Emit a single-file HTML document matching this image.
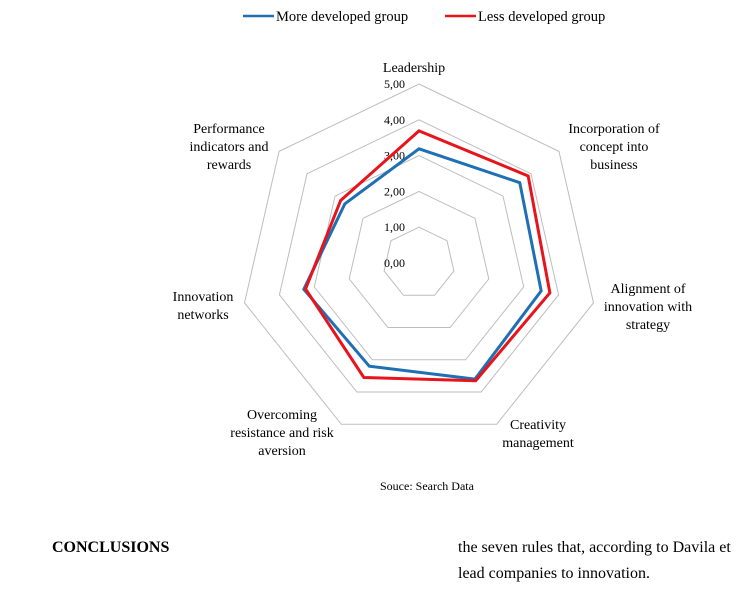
<!DOCTYPE html>
<html><head><meta charset="utf-8"><style>
body{margin:0;background:#fff;width:742px;height:590px;overflow:hidden;font-family:"Liberation Serif",serif}
svg{position:absolute;left:0;top:0}
</style></head><body>
<svg width="742" height="590" font-family="Liberation Serif, serif">
<g id="grid"></g>
<g id="ticks"></g>
<g id="series"></g>
<g id="labels"></g>
<g>
<line x1="243" y1="16" x2="274" y2="16" stroke="#1f6fb4" stroke-width="2.5"/>
<text x="276" y="21" font-size="14.5">More developed group</text>
<line x1="445" y1="16" x2="476" y2="16" stroke="#e8141c" stroke-width="2.5"/>
<text x="478" y="21" font-size="14.5">Less developed group</text>
</g>
<text x="380" y="490" font-size="12">Souce: Search Data</text>
<text x="52" y="552" font-size="16" font-weight="bold">CONCLUSIONS</text>
<text x="458" y="552" font-size="16">the seven rules that, according to Davila et</text>
<text x="458" y="578" font-size="16">lead companies to innovation.</text>
</svg>
<script>
const categories=["Leadership","Incorporation of concept into business","Alignment of innovation with strategy","Creativity management","Overcoming resistance and risk aversion","Innovation networks","Performance indicators and rewards"];
const moreDeveloped=[3.19,3.6,3.5,3.6,3.2,3.3,2.65];
const lessDeveloped=[3.69,3.9,3.75,3.65,3.55,3.25,2.8];
const tickValues=[0,1,2,3,4,5];
const tickLabels=["0,00","1,00","2,00","3,00","4,00","5,00"];
const labelLines=[["Leadership"],["Incorporation of","concept into","business"],["Alignment of","innovation with","strategy"],["Creativity","management"],["Overcoming","resistance and risk","aversion"],["Innovation","networks"],["Performance","indicators and","rewards"]];
const cx=419,cy=263,unit=35.8,maxV=5;
const NS="http://www.w3.org/2000/svg";
function ang(i){return -Math.PI/2+i*2*Math.PI/categories.length;}
function pt(i,v){return [cx+Math.cos(ang(i))*v*unit,cy+Math.sin(ang(i))*v*unit];}
const grid=document.getElementById('grid');
tickValues.forEach(t=>{if(t===0)return;
 const p=document.createElementNS(NS,'polygon');
 p.setAttribute('points',categories.map((c,i)=>pt(i,t).join(',')).join(' '));
 p.setAttribute('fill','none');p.setAttribute('stroke','#bdbdbd');p.setAttribute('stroke-width','1');
 
 
 grid.appendChild(p);});
const ticks=document.getElementById('ticks');
tickValues.forEach((t,k)=>{const tx=document.createElementNS(NS,'text');
 tx.setAttribute('x',384);tx.setAttribute('y',cy-t*unit+4);tx.setAttribute('font-size','12');
 tx.textContent=tickLabels[k];
 
 
 ticks.appendChild(tx);});
const ser=document.getElementById('series');
[[moreDeveloped,'#1f6fb4','series-more-developed'],[lessDeveloped,'#e8141c','series-less-developed']].forEach(([d,c,n])=>{
 const p=document.createElementNS(NS,'polygon');
 p.setAttribute('points',d.map((v,i)=>pt(i,v).join(',')).join(' '));
 p.setAttribute('fill','none');p.setAttribute('stroke',c);p.setAttribute('stroke-width','3');p.setAttribute('stroke-linejoin','miter');
 
 
 ser.appendChild(p);});
const labelPos=[[414,72],[614,133],[648,293],[538,429],[282,419],[203,301],[229,133]];
const lab=document.getElementById('labels');
labelLines.forEach((ls,i)=>{const tx=document.createElementNS(NS,'text');
 tx.setAttribute('x',labelPos[i][0]);tx.setAttribute('y',labelPos[i][1]);tx.setAttribute('font-size','14');tx.setAttribute('text-anchor','middle');
 
 
 ls.forEach((l,j)=>{const s=document.createElementNS(NS,'tspan');s.setAttribute('x',labelPos[i][0]);s.setAttribute('dy',j?18:0);s.textContent=l;tx.appendChild(s);});
 lab.appendChild(tx);});
</script>
</body></html>
